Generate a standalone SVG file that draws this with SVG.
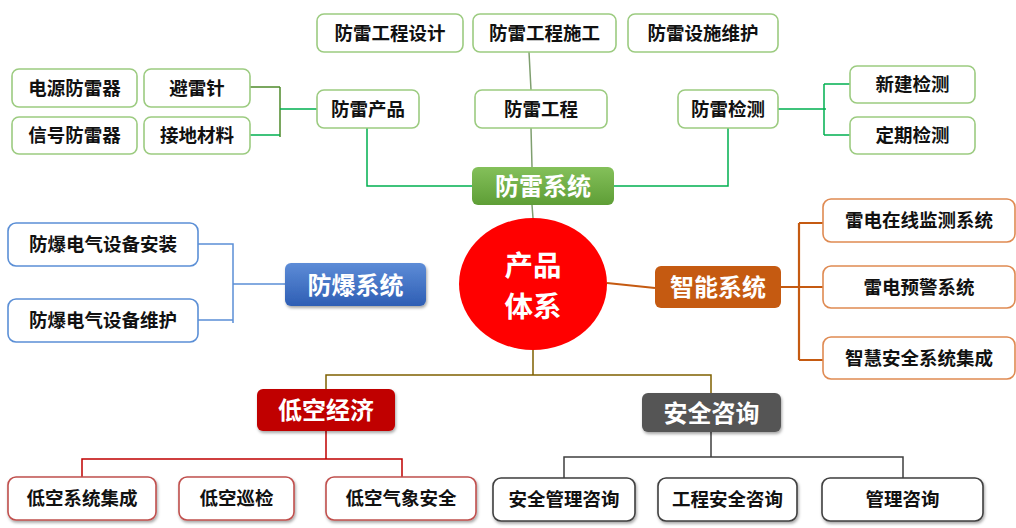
<svg xmlns="http://www.w3.org/2000/svg" width="1016" height="528" viewBox="0 0 1016 528">
<defs>
<style>
text{font-family:"Noto Sans CJK SC","Liberation Sans",sans-serif;font-weight:bold;text-anchor:middle;dominant-baseline:central}
.leaf{font-size:18.5px;fill:#111}
.cat{font-size:24px;fill:#fff}
.bx{fill:#fff;stroke-width:1.6}
.g{stroke:#9ccb80}
.b{stroke:#5b8fd6}
.o{stroke:#df8a52}
.r{stroke:#c0504d}
.k{stroke:#3f3f3f}
.ln{fill:none;stroke-width:1.5}
</style>
<linearGradient id="gg" x1="0" y1="0" x2="0" y2="1"><stop offset="0" stop-color="#84c05a"/><stop offset="1" stop-color="#5e9e36"/></linearGradient>
<linearGradient id="bg" x1="0" y1="0" x2="0" y2="1"><stop offset="0" stop-color="#5d8cd7"/><stop offset="1" stop-color="#2e5eb4"/></linearGradient>
<filter id="sh" x="-10%" y="-20%" width="130%" height="150%"><feDropShadow dx="1" dy="2" stdDeviation="1.8" flood-color="#000" flood-opacity="0.35"/></filter>
</defs>
<rect width="1016" height="528" fill="#fff"/>

<g id="connectors">
<path class="ln" stroke="#7f9f6f" d="M529 52L531 90M531 128L532 167M532 205L533 218"/>
<path class="ln" stroke="#4f8a2b" d="M250 87H280M280 87V137"/>
<path class="ln" stroke="#00b050" d="M250 135H280M280 109H317M367 128V186H472M613 186H728V128M778 109H826M824 84V135M824 84H850M824 135H850"/>
<path class="ln" stroke="#5b8fd6" d="M198 244H233V323M198 320H233M233 284H285"/>
<path fill="none" stroke="#c55a11" stroke-width="2.2" d="M607 283L655 288M781 287H823M799 223V360M799 223H828M799 360H828"/>
<path class="ln" stroke="#7f6000" d="M533 350V375M326 389V375H711V393"/>
<path class="ln" stroke="#c00000" d="M326 431V459M82 477V459H402V477"/>
<path class="ln" stroke="#3f3f3f" d="M711 432V457M564 478V457H903V478"/>
</g>

<g id="center"><ellipse cx="533" cy="284" rx="74" ry="66" fill="#ff0000"/><text font-size="28.5" fill="#fff"><tspan x="533" y="262.5">产品</tspan><tspan x="533" y="304">体系</tspan></text></g>

<g id="fl-sys"><rect x="472" y="167" width="142" height="38" rx="6" fill="url(#gg)"/><text class="cat" x="543" y="184.5">防雷系统</text></g>
<g id="fl-design"><rect class="bx g" x="317" y="14" width="146" height="38" rx="7"/><text class="leaf" x="390" y="31.5">防雷工程设计</text></g>
<g id="fl-build"><rect class="bx g" x="473" y="14" width="143" height="38" rx="7"/><text class="leaf" x="544.5" y="31.5">防雷工程施工</text></g>
<g id="fl-maint"><rect class="bx g" x="628" y="14" width="150" height="38" rx="7"/><text class="leaf" x="703" y="31.5">防雷设施维护</text></g>
<g id="fl-prod"><rect class="bx g" x="317" y="90" width="102" height="38" rx="7"/><text class="leaf" x="368" y="107.5">防雷产品</text></g>
<g id="fl-eng"><rect class="bx g" x="475" y="90" width="132" height="38" rx="7"/><text class="leaf" x="541" y="107.5">防雷工程</text></g>
<g id="fl-det"><rect class="bx g" x="678" y="90" width="100" height="38" rx="7"/><text class="leaf" x="728" y="107.5">防雷检测</text></g>
<g id="fl-power"><rect class="bx g" x="12" y="69" width="125" height="38" rx="7"/><text class="leaf" x="74.5" y="86.5">电源防雷器</text></g>
<g id="fl-rod"><rect class="bx g" x="144" y="69" width="106" height="38" rx="7"/><text class="leaf" x="197" y="86.5">避雷针</text></g>
<g id="fl-signal"><rect class="bx g" x="12" y="117" width="125" height="37" rx="7"/><text class="leaf" x="74.5" y="134">信号防雷器</text></g>
<g id="fl-ground"><rect class="bx g" x="144" y="117" width="106" height="37" rx="7"/><text class="leaf" x="197" y="134">接地材料</text></g>
<g id="fl-new"><rect class="bx g" x="850" y="66" width="125" height="37" rx="7"/><text class="leaf" x="912.5" y="83">新建检测</text></g>
<g id="fl-reg"><rect class="bx g" x="850" y="117" width="125" height="37" rx="7"/><text class="leaf" x="912.5" y="134">定期检测</text></g>

<g id="fb-sys"><rect x="285" y="263" width="141" height="43" rx="6" fill="url(#bg)" filter="url(#sh)"/><text class="cat" x="355.5" y="283">防爆系统</text></g>
<g id="fb-inst"><rect class="bx b" x="8" y="223" width="190" height="43" rx="8"/><text class="leaf" x="103" y="243">防爆电气设备安装</text></g>
<g id="fb-maint"><rect class="bx b" x="8" y="299" width="190" height="43" rx="8"/><text class="leaf" x="103" y="319">防爆电气设备维护</text></g>

<g id="zn-sys"><rect x="655" y="266" width="126" height="42" rx="6" fill="#c55a11"/><text class="cat" x="718" y="285.5">智能系统</text></g>
<g id="zn-mon"><rect class="bx o" x="823" y="199" width="192" height="43" rx="8"/><text class="leaf" x="919" y="219">雷电在线监测系统</text></g>
<g id="zn-warn"><rect class="bx o" x="823" y="266" width="192" height="42" rx="8"/><text class="leaf" x="919" y="285.5">雷电预警系统</text></g>
<g id="zn-int"><rect class="bx o" x="823" y="337" width="192" height="42" rx="8"/><text class="leaf" x="919" y="356.5">智慧安全系统集成</text></g>

<g id="dk-sys"><rect x="257" y="389" width="138" height="42" rx="6" fill="#c00000" filter="url(#sh)"/><text class="cat" x="326" y="408.5">低空经济</text></g>
<g id="dk-int"><rect class="bx r" x="8" y="477" width="148" height="43" rx="8" filter="url(#sh)"/><text class="leaf" x="82" y="497">低空系统集成</text></g>
<g id="dk-pat"><rect class="bx r" x="179" y="477" width="115" height="43" rx="8" filter="url(#sh)"/><text class="leaf" x="236.5" y="497">低空巡检</text></g>
<g id="dk-met"><rect class="bx r" x="326" y="477" width="150" height="43" rx="8" filter="url(#sh)"/><text class="leaf" x="401" y="497">低空气象安全</text></g>

<g id="aq-sys"><rect x="642" y="393" width="139" height="39" rx="6" fill="#555" filter="url(#sh)"/><text class="cat" x="711.5" y="411">安全咨询</text></g>
<g id="aq-mgmt"><rect class="bx k" x="493" y="478" width="142" height="43" rx="8" filter="url(#sh)"/><text class="leaf" x="564" y="498">安全管理咨询</text></g>
<g id="aq-eng"><rect class="bx k" x="658" y="478" width="139" height="43" rx="8" filter="url(#sh)"/><text class="leaf" x="727.5" y="498">工程安全咨询</text></g>
<g id="aq-man"><rect class="bx k" x="822" y="478" width="161" height="43" rx="8" filter="url(#sh)"/><text class="leaf" x="902.5" y="498">管理咨询</text></g>
</svg>
